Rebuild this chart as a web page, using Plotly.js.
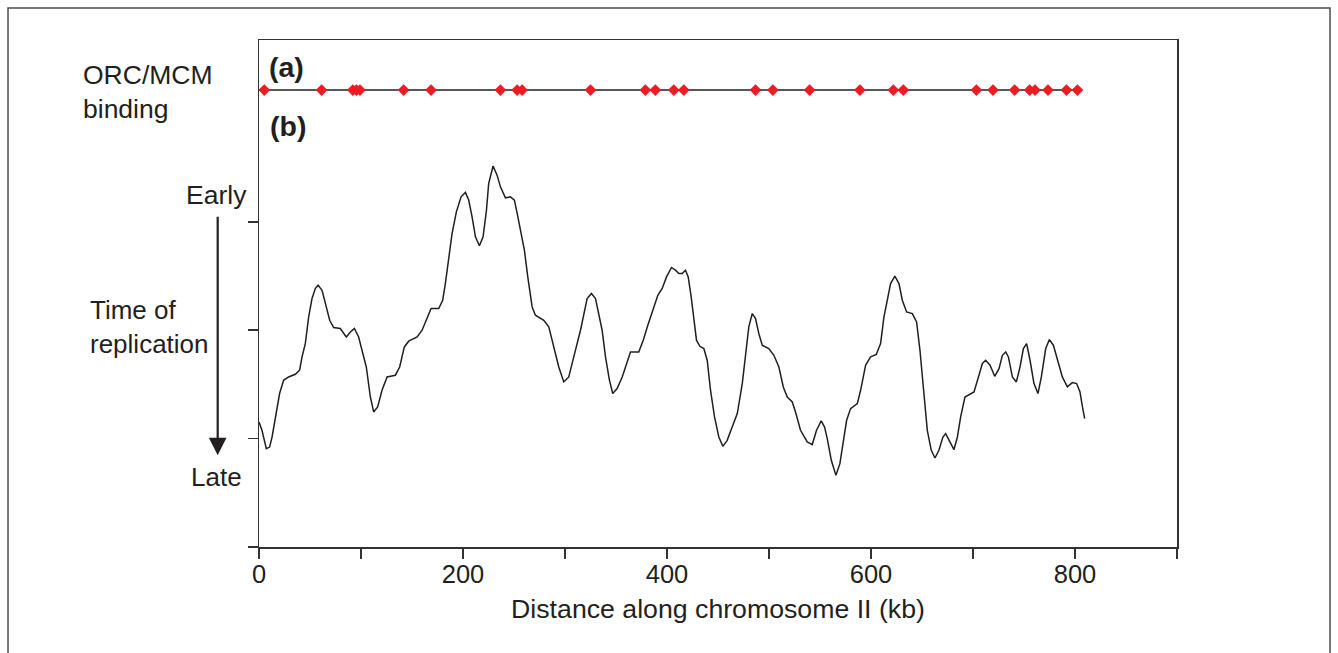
<!DOCTYPE html>
<html>
<head>
<meta charset="utf-8">
<script src="https://cdn.plot.ly/plotly-3.0.1.min.js"></script>
<style>
html,body{margin:0;padding:0;background:#fff;}
#chart{width:1338px;height:653px;}
</style>
</head>
<body>
<div id="chart"></div>
<script>
// Distance along chromosome II (kb)
const positionKb = [
  0, 2.9, 7.2, 10.4, 12.8, 16.0, 20.2, 24.1, 29.0, 35.6,
  39.8, 42.2, 45.4, 48.7, 52.0, 55.2, 57.9, 61.8, 65.0, 69.3,
  73.2, 79.7, 85.6, 89.6, 93.5, 97.7, 101.0, 105.2, 109.2, 112.4,
  116.3, 120.6, 125.6, 133.7, 137.9, 142.5, 146.7, 155.0, 159.9, 164.8,
  168.7, 176.2, 180.1, 182.7, 186.0, 189.3, 193.5, 198.1, 202.4, 205.6,
  208.9, 212.2, 216.1, 219.7, 223.0, 225.2, 229.5, 233.4, 236.7, 241.6,
  246.5, 250.4, 253.1, 256.3, 260.2, 263.5, 267.8, 271.0, 279.2, 284.1,
  289.0, 293.9, 298.8, 303.7, 308.6, 315.2, 321.7, 325.9, 329.9, 333.1,
  336.4, 339.7, 343.6, 346.8, 351.1, 356.1, 361.0, 364.2, 372.3, 376.7,
  381.2, 386.4, 391.0, 395.3, 399.5, 404.4, 408.3, 411.6, 414.9, 418.1,
  420.8, 423.7, 426.3, 428.9, 432.2, 436.1, 439.4, 442.7, 446.6, 450.8,
  454.7, 459.0, 463.9, 468.9, 473.8, 477.0, 480.2, 483.6, 486.8, 490.0,
  493.4, 499.8, 504.8, 509.7, 514.0, 517.9, 522.8, 526.0, 530.9, 537.5,
  542.4, 546.6, 551.2, 554.5, 557.1, 561.1, 565.6, 569.5, 572.8, 576.1,
  580.0, 586.6, 589.8, 594.7, 599.6, 605.2, 609.4, 612.7, 616.0, 619.2,
  623.4, 627.4, 630.7, 634.9, 640.5, 644.7, 648.0, 651.3, 655.2, 659.1,
  662.7, 666.6, 670.5, 673.2, 677.4, 681.3, 684.7, 687.9, 692.1, 696.0,
  701.0, 704.9, 709.2, 712.4, 716.7, 721.3, 725.5, 728.8, 732.1, 734.7,
  738.6, 742.5, 746.1, 749.4, 752.6, 755.9, 759.8, 763.7, 767.0, 771.3,
  774.9, 778.8, 782.7, 787.6, 792.5, 797.4, 801.6, 804.9, 807.3, 809.5
];
// Replication timing (higher = earlier)
const replicationTime = [
  1.153, 1.077, 0.908, 0.922, 1.015, 1.200, 1.416, 1.538, 1.569, 1.594,
  1.631, 1.754, 1.877, 2.123, 2.293, 2.385, 2.416, 2.369, 2.247, 2.092,
  2.025, 2.016, 1.938, 1.984, 2.016, 1.938, 1.815, 1.661, 1.384, 1.246,
  1.292, 1.446, 1.569, 1.585, 1.661, 1.846, 1.899, 1.938, 2.000, 2.123,
  2.201, 2.201, 2.277, 2.431, 2.647, 2.893, 3.092, 3.231, 3.272, 3.201,
  3.046, 2.862, 2.779, 2.862, 3.108, 3.355, 3.515, 3.431, 3.323, 3.222,
  3.231, 3.201, 3.078, 2.924, 2.739, 2.492, 2.215, 2.139, 2.092, 2.031,
  1.846, 1.661, 1.523, 1.569, 1.754, 2.000, 2.293, 2.339, 2.293, 2.154,
  2.000, 1.754, 1.538, 1.416, 1.462, 1.569, 1.723, 1.800, 1.800, 1.908,
  2.046, 2.200, 2.323, 2.385, 2.492, 2.579, 2.554, 2.524, 2.524, 2.554,
  2.492, 2.308, 2.092, 1.908, 1.852, 1.831, 1.723, 1.446, 1.200, 1.015,
  0.929, 0.984, 1.107, 1.231, 1.508, 1.785, 2.031, 2.154, 2.108, 1.970,
  1.862, 1.831, 1.769, 1.661, 1.477, 1.384, 1.338, 1.246, 1.077, 0.969,
  0.945, 1.077, 1.163, 1.107, 1.000, 0.800, 0.661, 0.769, 0.984, 1.169,
  1.277, 1.323, 1.446, 1.677, 1.754, 1.776, 1.877, 2.123, 2.277, 2.431,
  2.499, 2.431, 2.277, 2.169, 2.154, 2.077, 1.815, 1.446, 1.077, 0.892,
  0.821, 0.892, 1.015, 1.046, 0.969, 0.898, 1.015, 1.200, 1.384, 1.406,
  1.430, 1.554, 1.693, 1.723, 1.677, 1.575, 1.646, 1.769, 1.800, 1.754,
  1.569, 1.523, 1.661, 1.831, 1.877, 1.723, 1.508, 1.416, 1.569, 1.831,
  1.914, 1.862, 1.723, 1.569, 1.477, 1.517, 1.508, 1.430, 1.292, 1.185
];
// ORC/MCM binding sites (kb)
const bindingSitesKb = [
  5.2, 61.4, 92, 95.5, 99, 141.8, 168.7, 236.7, 253.1, 258,
  325, 378.8, 388.6, 406.7, 416.5, 486.8, 503.8, 539.8, 589.1, 621.9,
  631.7, 703.3, 719.6, 740.8, 755.5, 760.8, 773.5, 791.6, 802.4
];
const xTickVals = [0, 100, 200, 300, 400, 500, 600, 700, 800, 900];
const xTickText = ['0', '', '200', '', '400', '', '600', '', '800', ''];
const yTickVals = [0, 1, 2, 3];

const FONT = 'Liberation Sans, Arial, Helvetica, sans-serif';
const INK = '#231f20';
const AX = '#333333';

const trackEnd = Math.max(...bindingSitesKb);

const traces = [
  {
    x: [0, trackEnd], y: [0, 0], yaxis: 'y2',
    mode: 'lines', line: {color: INK, width: 1.6},
    hoverinfo: 'skip', showlegend: false
  },
  {
    x: bindingSitesKb, y: bindingSitesKb.map(() => 0), yaxis: 'y2',
    mode: 'markers', marker: {symbol: 'diamond', size: 9, color: '#ec1c24', line: {width: 0}},
    name: 'ORC/MCM binding', showlegend: false
  },
  {
    x: positionKb, y: replicationTime,
    mode: 'lines', line: {color: INK, width: 1.5},
    name: 'Time of replication', showlegend: false
  }
];

const layout = {
  width: 1338, height: 653,
  margin: {l: 259, r: 161, t: 40, b: 106, pad: 0},
  paper_bgcolor: '#ffffff', plot_bgcolor: '#ffffff',
  font: {family: FONT, color: INK, size: 24},
  showlegend: false,
  xaxis: {
    range: [0, 900], tickvals: xTickVals, ticktext: xTickText,
    ticks: 'outside', ticklen: 10, tickwidth: 1.5, tickcolor: AX,
    ticklabelstandoff: -6,
    showline: true, linecolor: AX, linewidth: 1.5, mirror: true,
    showgrid: false, zeroline: false,
    tickfont: {family: FONT, size: 25.5, color: INK},
    title: {text: 'Distance along chromosome II (kb)', font: {family: FONT, size: 26.7, color: INK}, standoff: 12}
  },
  yaxis: {
    range: [0, 4.678], tickvals: yTickVals, showticklabels: false,
    ticks: 'outside', ticklen: 10, tickwidth: 1.5, tickcolor: AX,
    showline: true, linecolor: AX, linewidth: 1.5, mirror: true,
    showgrid: false, zeroline: false
  },
  yaxis2: {
    overlaying: 'y', range: [-0.9013, 0.0987],
    showline: false, showticklabels: false, ticks: '', showgrid: false, zeroline: false
  },
  shapes: [
    {type: 'rect', xref: 'paper', yref: 'paper', x0: -0.2734, x1: 1.1667, y0: -0.4, y1: 1.0632,
     line: {color: '#4d4d4d', width: 1.5}, fillcolor: 'rgba(0,0,0,0)', layer: 'below'}
  ],
  annotations: [
    {text: 'ORC/MCM<br>binding', xref: 'paper', yref: 'paper', x: -0.1935, y: 0.897,
     xanchor: 'left', yanchor: 'middle', align: 'left', showarrow: false, font: {size: 26.5}},
    {text: '<b>(a)</b>', xref: 'paper', yref: 'paper', x: 0.0305, y: 0.9467,
     xanchor: 'center', yanchor: 'middle', showarrow: false, font: {size: 28.5}},
    {text: '<b>(b)</b>', xref: 'paper', yref: 'paper', x: 0.0316, y: 0.8295,
     xanchor: 'center', yanchor: 'middle', showarrow: false, font: {size: 28.5}},
    {text: 'Early', xref: 'paper', yref: 'paper', x: -0.0461, y: 0.694,
     xanchor: 'center', yanchor: 'middle', showarrow: false, font: {size: 26.5}},
    {text: 'Time of<br>replication', xref: 'paper', yref: 'paper', x: -0.1865, y: 0.4345,
     xanchor: 'left', yanchor: 'middle', align: 'left', showarrow: false, font: {size: 26}},
    {text: 'Late', xref: 'paper', yref: 'paper', x: -0.0468, y: 0.138,
     xanchor: 'center', yanchor: 'middle', showarrow: false, font: {size: 26}},
    {text: '', xref: 'paper', yref: 'paper', x: -0.045, y: 0.1808,
     showarrow: true, ax: 0, ay: -240, arrowhead: 2, arrowsize: 1.6, arrowwidth: 2.2, arrowcolor: INK}
  ]
};

Plotly.newPlot('chart', traces, layout, {displayModeBar: false, staticPlot: true});
</script>
</body>
</html>
